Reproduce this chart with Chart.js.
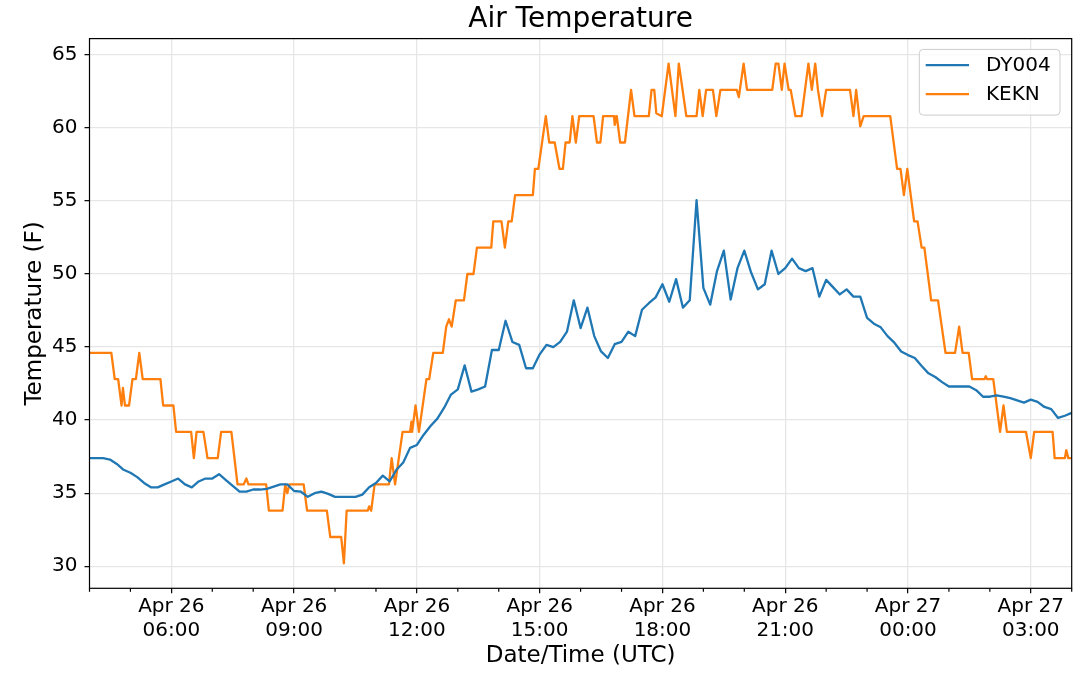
<!DOCTYPE html>
<html>
<head>
<meta charset="utf-8">
<script src="https://cdn.jsdelivr.net/npm/chart.js@4.4.1/dist/chart.umd.min.js"></script>
<style>
  body { margin: 0; background: #fff; }
</style>
</head>
<body>
<canvas id="chart" width="1080" height="680"></canvas>
<script>
// ==== DATA ====
// DY004 station, one reading every 10 minutes ("day hh:mm", UTC)
const dyTimes = [
  "26 04:00", "26 04:10", "26 04:20", "26 04:30", "26 04:40", "26 04:50",
  "26 05:00", "26 05:10", "26 05:20", "26 05:30", "26 05:40", "26 05:50",
  "26 06:00", "26 06:10", "26 06:20", "26 06:30", "26 06:40", "26 06:50",
  "26 07:00", "26 07:10", "26 07:20", "26 07:30", "26 07:40", "26 07:50",
  "26 08:00", "26 08:10", "26 08:20", "26 08:30", "26 08:40", "26 08:50",
  "26 09:00", "26 09:10", "26 09:20", "26 09:30", "26 09:40", "26 09:50",
  "26 10:00", "26 10:10", "26 10:20", "26 10:30", "26 10:40", "26 10:50",
  "26 11:00", "26 11:10", "26 11:20", "26 11:30", "26 11:40", "26 11:50",
  "26 12:00", "26 12:10", "26 12:20", "26 12:30", "26 12:40", "26 12:50",
  "26 13:00", "26 13:10", "26 13:20", "26 13:30", "26 13:40", "26 13:50",
  "26 14:00", "26 14:10", "26 14:20", "26 14:30", "26 14:40", "26 14:50",
  "26 15:00", "26 15:10", "26 15:20", "26 15:30", "26 15:40", "26 15:50",
  "26 16:00", "26 16:10", "26 16:20", "26 16:30", "26 16:40", "26 16:50",
  "26 17:00", "26 17:10", "26 17:20", "26 17:30", "26 17:40", "26 17:50",
  "26 18:00", "26 18:10", "26 18:20", "26 18:30", "26 18:40", "26 18:50",
  "26 19:00", "26 19:10", "26 19:20", "26 19:30", "26 19:40", "26 19:50",
  "26 20:00", "26 20:10", "26 20:20", "26 20:30", "26 20:40", "26 20:50",
  "26 21:00", "26 21:10", "26 21:20", "26 21:30", "26 21:40", "26 21:50",
  "26 22:00", "26 22:10", "26 22:20", "26 22:30", "26 22:40", "26 22:50",
  "26 23:00", "26 23:10", "26 23:20", "26 23:30", "26 23:40", "26 23:50",
  "27 00:00", "27 00:10", "27 00:20", "27 00:30", "27 00:40", "27 00:50",
  "27 01:00", "27 01:10", "27 01:20", "27 01:30", "27 01:40", "27 01:50",
  "27 02:00", "27 02:10", "27 02:20", "27 02:30", "27 02:40", "27 02:50",
  "27 03:00", "27 03:10", "27 03:20", "27 03:30", "27 03:40", "27 03:50",
  "27 04:00"
];
const dyTemps = [
  37.4, 37.4, 37.4, 37.3, 37.0, 36.6,
  36.4, 36.1, 35.7, 35.4, 35.4, 35.6,
  35.8, 36.0, 35.6, 35.4, 35.8, 36.0,
  36.0, 36.3, 35.9, 35.5, 35.1, 35.1,
  35.25, 35.25, 35.3, 35.45, 35.6, 35.6,
  35.15, 35.1, 34.75, 35.0, 35.1, 34.95,
  34.75, 34.75, 34.75, 34.75, 34.9, 35.4,
  35.7, 36.2, 35.8, 36.6, 37.1, 38.1,
  38.3, 39.0, 39.6, 40.1, 40.85, 41.75,
  42.1, 43.75, 41.95, 42.1, 42.3, 44.8,
  44.8, 46.8, 45.35, 45.15, 43.55, 43.55,
  44.5, 45.15, 45.0, 45.35, 46.05, 48.2,
  46.3, 47.7, 45.75, 44.7, 44.25, 45.2,
  45.35, 46.05, 45.75, 47.55, 48.0, 48.4,
  49.3, 48.1, 49.65, 47.7, 48.2, 55.05,
  49.05, 47.9, 50.2, 51.6, 48.25, 50.4,
  51.6, 50.1, 48.95, 49.3, 51.6, 50.0,
  50.4, 51.05, 50.4, 50.2, 50.4, 48.45,
  49.6, 49.1, 48.6, 48.95, 48.45, 48.45,
  47.0, 46.6, 46.35, 45.75, 45.3, 44.7,
  44.45, 44.25, 43.7, 43.2, 42.95, 42.6,
  42.3, 42.3, 42.3, 42.3, 42.05, 41.6,
  41.6, 41.7, 41.6, 41.5, 41.35, 41.2,
  41.4, 41.25, 40.9, 40.75, 40.15, 40.3,
  40.5
];

// KEKN airport station (whole degrees C converted to F)
const kTimes = [
  "26 04:00", "26 04:32", "26 04:37", "26 04:42", "26 04:47", "26 04:49", "26 04:52", "26 04:58",
  "26 05:03", "26 05:08", "26 05:13", "26 05:18", "26 05:44", "26 05:48", "26 06:03", "26 06:07",
  "26 06:29", "26 06:33", "26 06:37", "26 06:47", "26 06:53", "26 07:08", "26 07:13", "26 07:28",
  "26 07:37", "26 07:46", "26 07:50", "26 07:53", "26 08:19", "26 08:23", "26 08:43", "26 08:47",
  "26 08:50", "26 08:53", "26 09:14", "26 09:19", "26 09:48", "26 09:53", "26 10:09", "26 10:13",
  "26 10:17", "26 10:48", "26 10:50", "26 10:53", "26 10:58", "26 11:19", "26 11:23", "26 11:28",
  "26 11:39", "26 11:50", "26 11:52", "26 11:53", "26 11:58", "26 12:03", "26 12:14", "26 12:18",
  "26 12:24", "26 12:38", "26 12:43", "26 12:47", "26 12:51", "26 12:57", "26 13:09", "26 13:14",
  "26 13:23", "26 13:28", "26 13:49", "26 13:52", "26 14:04", "26 14:09", "26 14:14", "26 14:19",
  "26 14:24", "26 14:50", "26 14:53", "26 14:58", "26 15:09", "26 15:14", "26 15:22", "26 15:29",
  "26 15:34", "26 15:38", "26 15:44", "26 15:48", "26 15:53", "26 15:58", "26 16:19", "26 16:24",
  "26 16:29", "26 16:33", "26 16:49", "26 16:50", "26 16:53", "26 16:58", "26 17:05", "26 17:14",
  "26 17:19", "26 17:40", "26 17:44", "26 17:48", "26 17:51", "26 17:59", "26 18:09", "26 18:19",
  "26 18:24", "26 18:35", "26 18:50", "26 18:54", "26 18:59", "26 19:04", "26 19:14", "26 19:19",
  "26 19:25", "26 19:49", "26 19:52", "26 19:59", "26 20:04", "26 20:41", "26 20:46", "26 20:50",
  "26 20:55", "26 20:59", "26 21:05", "26 21:08", "26 21:15", "26 21:24", "26 21:29", "26 21:34",
  "26 21:39", "26 21:44", "26 21:48", "26 21:54", "26 22:00", "26 22:35", "26 22:40", "26 22:44",
  "26 22:50", "26 22:55", "26 23:34", "26 23:44", "26 23:49", "26 23:54", "26 23:59", "27 00:09",
  "27 00:14", "27 00:20", "27 00:24", "27 00:34", "27 00:44", "27 00:55", "27 01:09", "27 01:15",
  "27 01:20", "27 01:29", "27 01:34", "27 01:52", "27 01:54", "27 01:56", "27 02:05", "27 02:15",
  "27 02:20", "27 02:25", "27 02:53", "27 03:00", "27 03:05", "27 03:32", "27 03:35", "27 03:50",
  "27 03:52", "27 03:55", "27 04:00"
];
const kTemps = [
  44.6, 44.6, 42.8, 42.8, 41.0, 42.2, 41.0, 41.0,
  42.8, 42.8, 44.6, 42.8, 42.8, 41.0, 41.0, 39.2,
  39.2, 37.4, 39.2, 39.2, 37.4, 37.4, 39.2, 39.2,
  35.6, 35.6, 36.0, 35.6, 35.6, 33.8, 33.8, 35.6,
  35.0, 35.6, 35.6, 33.8, 33.8, 32.0, 32.0, 30.2,
  33.8, 33.8, 34.1, 33.8, 35.6, 35.6, 37.4, 35.6,
  39.2, 39.2, 39.9, 39.2, 41.0, 39.2, 42.8, 42.8,
  44.6, 44.6, 46.4, 46.9, 46.4, 48.2, 48.2, 50.0,
  50.0, 51.8, 51.8, 53.6, 53.6, 51.8, 53.6, 53.6,
  55.4, 55.4, 57.2, 57.2, 60.8, 59.0, 59.0, 57.2,
  57.2, 59.0, 59.0, 60.8, 59.0, 60.8, 60.8, 59.0,
  59.0, 60.8, 60.8, 60.2, 60.8, 59.0, 59.0, 62.6,
  60.8, 60.8, 62.6, 62.6, 61.0, 60.8, 64.4, 60.8,
  64.4, 60.8, 60.8, 62.6, 60.8, 62.6, 62.6, 60.8,
  62.6, 62.6, 62.1, 64.4, 62.6, 62.6, 64.4, 64.4,
  62.6, 64.4, 62.6, 62.6, 60.8, 60.8, 62.6, 64.4,
  62.6, 64.4, 62.6, 60.8, 62.6, 62.6, 60.8, 62.6,
  60.1, 60.8, 60.8, 57.2, 57.2, 55.4, 57.2, 53.6,
  53.6, 51.8, 51.8, 48.2, 48.2, 44.6, 44.6, 46.4,
  44.6, 44.6, 42.8, 42.8, 43.0, 42.8, 42.8, 39.2,
  41.0, 39.2, 39.2, 37.4, 39.2, 39.2, 37.4, 37.4,
  37.95, 37.4, 37.4
];

// major x ticks (hours since Apr 26 00:00) and their labels
const xTickHours = [6, 9, 12, 15, 18, 21, 24, 27];
const xTickLabels = [
  ["Apr 26", "06:00"], ["Apr 26", "09:00"], ["Apr 26", "12:00"], ["Apr 26", "15:00"],
  ["Apr 26", "18:00"], ["Apr 26", "21:00"], ["Apr 27", "00:00"], ["Apr 27", "03:00"]
];

function toHours(s) {
  const [d, hm] = s.split(" ");
  const [h, m] = hm.split(":").map(Number);
  return (Number(d) - 26) * 24 + h + m / 60;
}

const FONT = "'DejaVu Sans', sans-serif";
const GRID = "#e6e6e6";
const isMajor = (c) => c.tick && xTickHours.includes(c.tick.value);

// ==== FRAME, MINOR TICKS AND LEGEND ====
const framePlugin = {
  id: "frame",
  afterDraw(chart) {
    const { ctx, chartArea: a, scales: { x } } = chart;
    ctx.save();
    ctx.strokeStyle = "#000";
    ctx.lineWidth = 1.2;
    x.ticks.forEach((t) => {
      if (xTickHours.includes(t.value)) return;
      const px = x.getPixelForValue(t.value);
      ctx.beginPath();
      ctx.moveTo(px, a.bottom);
      ctx.lineTo(px, a.bottom + 3.5);
      ctx.stroke();
    });
    ctx.strokeRect(a.left, a.top, a.right - a.left, a.bottom - a.top);

    // legend box
    const bx = a.right - 152.4, by = a.top + 10.8, bw = 140.7, bh = 65.7;
    ctx.beginPath();
    ctx.roundRect(bx, by, bw, bh, 4);
    ctx.fillStyle = "rgba(255,255,255,0.8)";
    ctx.fill();
    ctx.strokeStyle = "#cccccc";
    ctx.lineWidth = 1;
    ctx.stroke();
    ctx.font = "20px " + FONT;
    ctx.textBaseline = "middle";
    chart.data.datasets.forEach((ds, i) => {
      const ry = by + 15.7 + i * 29;
      ctx.strokeStyle = ds.borderColor;
      ctx.lineWidth = ds.borderWidth;
      ctx.beginPath();
      ctx.moveTo(bx + 6.4, ry);
      ctx.lineTo(bx + 49.7, ry);
      ctx.stroke();
      ctx.fillStyle = "#000";
      ctx.fillText(ds.label, bx + 66.7, ry + 1);
    });
    ctx.restore();
  }
};

// ==== CHART ====
const ctx = document.getElementById("chart").getContext("2d");
new Chart(ctx, {
  type: "line",
  data: {
    datasets: [
      {
        label: "DY004",
        data: dyTimes.map((t, i) => ({ x: toHours(t), y: dyTemps[i] })),
        borderColor: "#1f77b4",
        borderWidth: 2.3,
        borderJoinStyle: "round",
        pointRadius: 0,
        tension: 0
      },
      {
        label: "KEKN",
        data: kTimes.map((t, i) => ({ x: toHours(t), y: kTemps[i] })),
        borderColor: "#ff7f0e",
        borderWidth: 2.3,
        borderJoinStyle: "round",
        pointRadius: 0,
        tension: 0
      }
    ]
  },
  options: {
    responsive: false,
    animation: false,
    layout: { padding: { left: 0, right: 8.3, top: 0, bottom: 0 } },
    plugins: {
      legend: { display: false },
      tooltip: { enabled: false },
      title: {
        display: true,
        text: "Air Temperature",
        fullSize: false,
        color: "#000",
        font: { family: FONT, size: 28, weight: "normal" },
        padding: { top: 3, bottom: 2 }
      }
    },
    scales: {
      x: {
        type: "linear",
        min: 4,
        max: 28,
        afterFit(s) { s.height = 91.7; },
        ticks: {
          stepSize: 1,
          autoSkip: false,
          maxRotation: 0,
          padding: 1,
          color: "#000",
          font: { family: FONT, size: 20 },
          callback(v) {
            const i = xTickHours.indexOf(v);
            return i < 0 ? "" : xTickLabels[i];
          }
        },
        grid: {
          color: (c) => (isMajor(c) ? GRID : "transparent"),
          tickColor: (c) => (isMajor(c) ? "#000" : "transparent"),
          lineWidth: 1.3,
          tickWidth: 1.2,
          tickLength: 5
        },
        border: { display: false },
        title: {
          display: true,
          text: "Date/Time (UTC)",
          color: "#000",
          font: { family: FONT, size: 23 },
          padding: { top: 0, bottom: 10 }
        }
      },
      y: {
        min: 28.49,
        max: 66.11,
        afterFit(s) { s.width = 89.5; },
        ticks: {
          stepSize: 5,
          includeBounds: false,
          padding: 7,
          color: "#000",
          font: { family: FONT, size: 20 }
        },
        grid: {
          color: GRID,
          tickColor: "#000",
          lineWidth: 1.3,
          tickWidth: 1.2,
          tickLength: 5
        },
        border: { display: false },
        title: {
          display: true,
          text: "Temperature (F)",
          color: "#000",
          font: { family: FONT, size: 23 },
          padding: { top: 21, bottom: 0 }
        }
      }
    }
  },
  plugins: [framePlugin]
});
</script>
</body>
</html>
